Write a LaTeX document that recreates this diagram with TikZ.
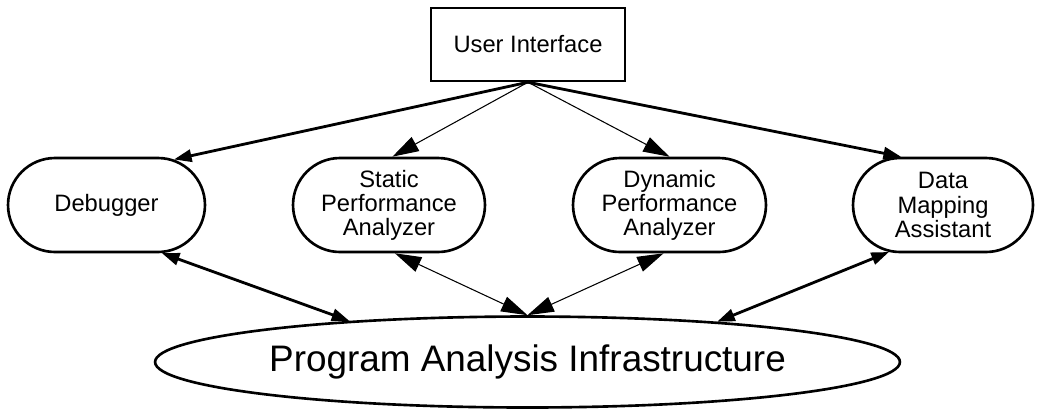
\documentclass[tikz,border=0pt]{standalone}
\usepackage{fontspec}
\setmainfont{Liberation Sans}
\usetikzlibrary{shapes.misc, shapes.geometric, arrows.meta}

\begin{document}
\begin{tikzpicture}[x=0.02cm, y=-0.02cm,
    tool/.style={rounded rectangle, draw, line width=1.5pt, minimum height=1.88cm,
        inner sep=0pt, align=center, font=\fontsize{13.5}{13.7}\selectfont},
    post/.style={-{Triangle[length=10pt,width=7pt]}, line width=1.6pt},
    thinpost/.style={-{Triangle[length=15pt,width=9pt]}, line width=0.6pt},
    both/.style={{Triangle[length=10pt,width=7pt]}-{Triangle[length=10pt,width=7pt]}, line width=1.6pt},
    thinboth/.style={{Triangle[length=15pt,width=9pt]}-{Triangle[length=15pt,width=9pt]}, line width=0.6pt}]

    \useasboundingbox (0,0) rectangle (1037,410);

    % draw nodes
    \node [draw, line width=1.4pt, minimum width=3.88cm, minimum height=1.46cm,
        font=\fontsize{13.5}{13.7}\selectfont]
        (ui) at (528,44.5) {User Interface};

    \foreach \n/\x/\w/\t in {dbg/106.5/3.94/Debugger,
                             spa/389/3.84/{Static\\Performance\\Analyzer},
                             dpa/669.5/3.86/{Dynamic\\Performance\\Analyzer},
                             dma/943/3.6/{Data\\Mapping\\Assistant}}
        \node [tool, minimum width=\w cm]
            (\n) at (\x,205) {\t};

    \node [ellipse, draw, line width=1.5pt, minimum width=14.9cm, minimum height=1.82cm,
        inner sep=0pt, font=\fontsize{21}{24}\selectfont]
        (pia) at (527.5,362) {Program Analysis Infrastructure};

    % draw edges
    \foreach \i/\j/\s in {ui.south/dbg.34/post, ui.south/spa.86/thinpost,
                          ui.south/dpa.north/thinpost, ui.south/dma.131/post,
                          dbg.-41/pia.167/both, spa.-83/pia.north/thinboth,
                          dpa.-97/pia.north/thinboth, dma.-139/pia.12/both}
        \draw [\s] (\i) -- (\j);

\end{tikzpicture}
\end{document}
